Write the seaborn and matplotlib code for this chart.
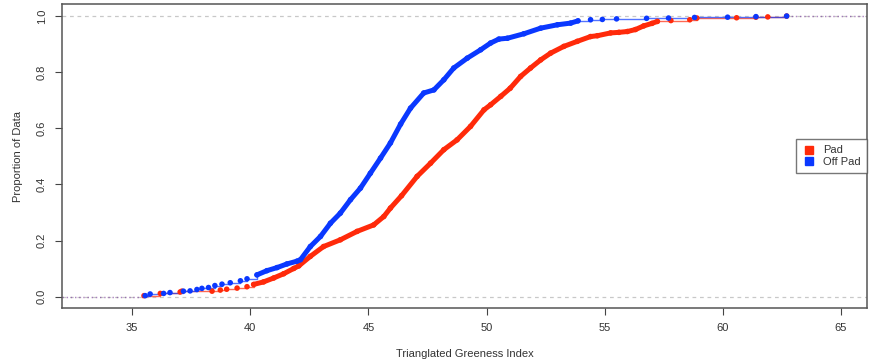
import numpy as np
import pandas as pd
import matplotlib
matplotlib.use("Agg")
import matplotlib.pyplot as plt
import seaborn as sns

sns.set_style("ticks")
plt.rcParams["font.family"] = ["Liberation Sans", "DejaVu Sans"]

# ECDF readings (x value, cumulative proportion) for each group
pad_x = [35.5, 36.19, 37.03, 37.1, 38.38, 38.73, 39.0, 39.44, 39.86, 40.14,
         40.56, 40.99, 41.41, 41.84, 42.05, 42.54, 43.1, 43.81, 44.52, 45.22,
         45.65, 45.93, 46.4, 47.06, 47.63, 48.19, 48.75, 49.32, 49.89, 50.17,
         50.6, 51.0, 51.44, 51.86, 52.29, 52.71, 53.27, 53.84, 54.4, 54.69,
         55.25, 55.6, 55.96, 56.3, 56.65, 57.0, 57.23, 57.8, 58.6, 58.9,
         60.58, 61.4, 61.9, 62.7]
pad_p = [0.004, 0.012, 0.017, 0.02, 0.02, 0.024, 0.027, 0.031, 0.036, 0.044,
         0.053, 0.067, 0.082, 0.101, 0.11, 0.144, 0.179, 0.203, 0.233, 0.256,
         0.286, 0.316, 0.36, 0.429, 0.476, 0.524, 0.559, 0.607, 0.666, 0.684,
         0.714, 0.743, 0.785, 0.815, 0.844, 0.868, 0.892, 0.91, 0.927, 0.93,
         0.94, 0.942, 0.945, 0.952, 0.965, 0.974, 0.981, 0.984, 0.987, 0.993,
         0.994, 0.996, 0.997, 1.0]

offpad_x = [35.55, 35.76, 36.33, 36.6, 37.17, 37.45, 37.74, 37.95, 38.23, 38.5,
            38.8, 39.15, 39.58, 39.86, 40.28, 40.7, 41.13, 41.55, 41.98, 42.12,
            42.54, 42.97, 43.39, 43.81, 44.24, 44.66, 45.08, 45.51, 45.93, 46.36,
            46.78, 47.34, 47.77, 48.19, 48.61, 49.18, 49.75, 50.17, 50.52, 50.88,
            51.58, 52.29, 53.0, 53.56, 53.87, 54.4, 54.9, 55.5, 56.77, 57.7,
            58.8, 60.2, 61.4, 62.7]
offpad_p = [0.004, 0.01, 0.012, 0.015, 0.02, 0.021, 0.026, 0.03, 0.033, 0.04,
            0.045, 0.05, 0.057, 0.064, 0.078, 0.093, 0.104, 0.117, 0.127, 0.132,
            0.179, 0.215, 0.262, 0.298, 0.346, 0.387, 0.44, 0.494, 0.548, 0.615,
            0.672, 0.726, 0.737, 0.773, 0.815, 0.85, 0.88, 0.904, 0.918, 0.921,
            0.937, 0.957, 0.969, 0.975, 0.983, 0.987, 0.988, 0.99, 0.992, 0.993,
            0.995, 0.996, 0.998, 1.0]

groups = ["Pad", "Off Pad"]
colors = {"Pad": "#ff2a0a", "Off Pad": "#0a38ff"}
# x-range where points are so dense they merge into a solid band
dense_range = {"Pad": (40.1, 57.3), "Off Pad": (40.2, 54.0)}

df = pd.concat([
    pd.DataFrame({"x": pad_x, "p": pad_p, "group": "Pad"}),
    pd.DataFrame({"x": offpad_x, "p": offpad_p, "group": "Off Pad"}),
], ignore_index=True)

fig = plt.figure(figsize=(8.71, 3.6), dpi=100)
ax = fig.add_axes([0.0712, 0.1444, 0.9242, 0.8445])

xlim = (32.03, 66.1)
ylim = (-0.04, 1.043)

ax.axhline(0, color="#c8c8c8", lw=0.9, ls=(0, (3, 3)), zorder=1)
ax.axhline(1, color="#c8c8c8", lw=0.9, ls=(0, (3, 3)), zorder=1)

for g in groups:
    sub = df[df["group"] == g]
    c = colors[g]
    lo, hi = dense_range[g]
    ax.hlines(0, xlim[0], sub["x"].min(), color=c, alpha=0.35, lw=1, ls=(0, (1, 2)), zorder=2)
    ax.hlines(1, sub["x"].max(), xlim[1], color=c, alpha=0.35, lw=1, ls=(0, (1, 2)), zorder=2)

    # sparse tails: thin step segments between individual points
    left = sub.iloc[: (sub["x"] < lo).sum() + 1]
    right = sub.iloc[(sub["x"] <= hi).sum() - 1:]
    for part in (left, right):
        sns.lineplot(data=part, x="x", y="p", color=c, lw=1, alpha=0.7,
                     drawstyle="steps-post", estimator=None, sort=False, ax=ax, zorder=3)

    # dense middle: overlapping points form a solid band
    core = sub[(sub["x"] >= lo) & (sub["x"] <= hi)]
    sns.lineplot(data=core, x="x", y="p", color=c, lw=3.6, estimator=None,
                 sort=False, ax=ax, zorder=4, solid_capstyle="round")
    sns.scatterplot(data=sub, x="x", y="p", color=c, s=16, edgecolor="none",
                    ax=ax, zorder=5)

ax.set_xlim(*xlim)
ax.set_ylim(*ylim)
ax.set_xticks([35, 40, 45, 50, 55, 60, 65])
ax.set_yticks([0, 0.2, 0.4, 0.6, 0.8, 1.0])
ax.set_yticklabels(["0.0", "0.2", "0.4", "0.6", "0.8", "1.0"], rotation=90, va="center")
ax.tick_params(axis="both", colors="#444444", labelcolor="#333333", labelsize=8,
               length=5, width=0.8, direction="out")
ax.tick_params(axis="x", pad=6)
ax.tick_params(axis="y", pad=6)
for s in ax.spines.values():
    s.set_color("#555555")
    s.set_linewidth(1.1)

ax.set_xlabel("Trianglated Greeness Index", fontsize=8, color="#333333", labelpad=11)
ax.set_ylabel("Proportion of Data", fontsize=8, color="#333333", labelpad=10)

handles = [plt.Line2D([], [], marker="s", ls="none", color=colors[g], markersize=6)
           for g in groups]
leg = ax.legend(handles, groups, loc="center right", bbox_to_anchor=(1.0, 0.5),
                borderaxespad=0, frameon=True, fancybox=False, fontsize=8,
                handletextpad=0.6, handlelength=1.2, labelspacing=0.1,
                borderpad=0.6)
leg.get_frame().set_edgecolor("#555555")
leg.get_frame().set_linewidth(1.0)
for t in leg.get_texts():
    t.set_color("#333333")

fig.savefig("out.png", dpi=100)
